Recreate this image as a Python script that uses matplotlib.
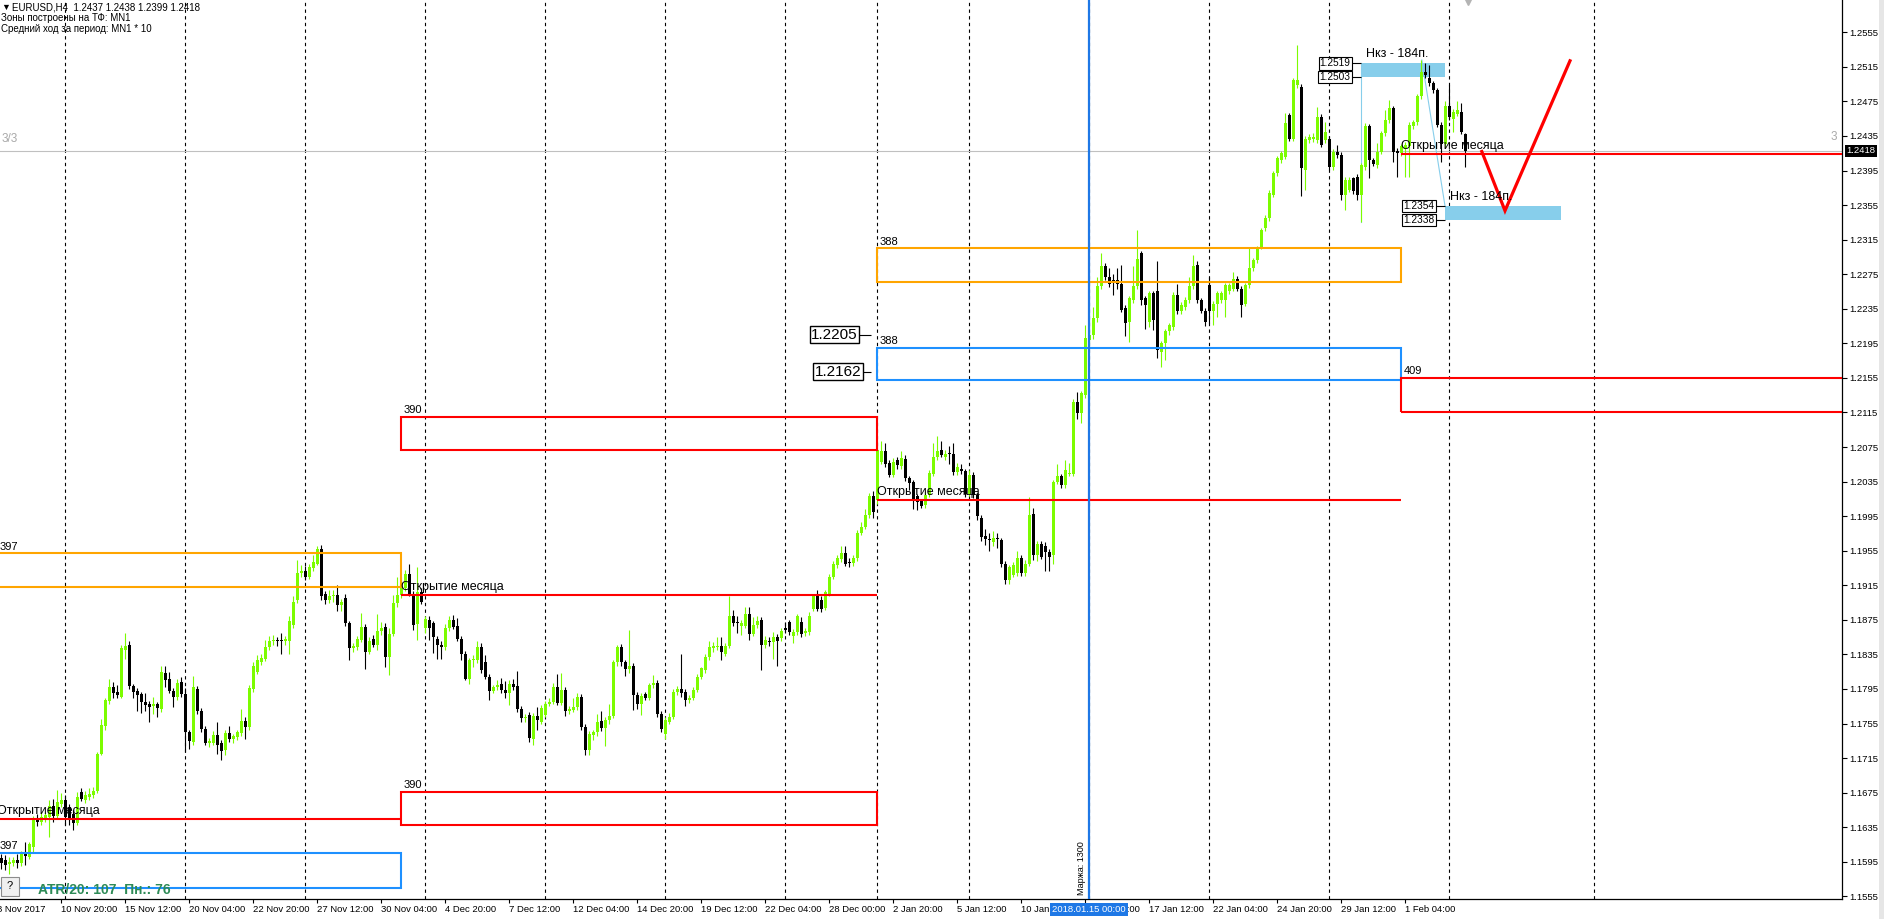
"""
EURUSD H4 chart with monthly zones (MT4 style)
"""

import numpy as np
import matplotlib
matplotlib.use('Agg')
import matplotlib.pyplot as plt
from matplotlib.patches import Rectangle

plt.rcParams['font.family'] = ['Liberation Sans', 'DejaVu Sans']

W, H = 1884, 919

# H4 candles, bar 0 = 8 Nov 2017 04:00
opens = [
    1.1602, 1.1599, 1.1597, 1.1592, 1.1594, 1.1597, 1.1593, 1.1605, 1.1601, 1.1612,
    1.1643, 1.1641, 1.1645, 1.1647, 1.1660, 1.1648, 1.1662, 1.1666, 1.1658, 1.1650,
    1.1640, 1.1676, 1.1667, 1.1670, 1.1672, 1.1677, 1.1720, 1.1752, 1.1781, 1.1797,
    1.1792, 1.1786, 1.1840, 1.1846, 1.1798, 1.1793, 1.1789, 1.1780, 1.1778, 1.1775,
    1.1777, 1.1772, 1.1813, 1.1806, 1.1793, 1.1786, 1.1803, 1.1789, 1.1745, 1.1734,
    1.1795, 1.1770, 1.1749, 1.1733, 1.1733, 1.1742, 1.1733, 1.1724, 1.1744, 1.1737,
    1.1739, 1.1744, 1.1758, 1.1751, 1.1795, 1.1815, 1.1826, 1.1830, 1.1843, 1.1850,
    1.1851, 1.1852, 1.1850, 1.1851, 1.1869, 1.1898, 1.1929, 1.1932, 1.1925, 1.1935,
    1.1940, 1.1957, 1.1905, 1.1898, 1.1902, 1.1904, 1.1892, 1.1900, 1.1871, 1.1842,
    1.1844, 1.1852, 1.1867, 1.1838, 1.1853, 1.1846, 1.1862, 1.1867, 1.1832, 1.1859,
    1.1894, 1.1904, 1.1912, 1.1928, 1.1905, 1.1870, 1.1907, 1.1865, 1.1875, 1.1871,
    1.1853, 1.1846, 1.1844, 1.1865, 1.1875, 1.1868, 1.1853, 1.1836, 1.1807, 1.1828,
    1.1828, 1.1844, 1.1826, 1.1809, 1.1793, 1.1797, 1.1801, 1.1794, 1.1790, 1.1801,
    1.1798, 1.1772, 1.1761, 1.1765, 1.1737, 1.1764, 1.1757, 1.1765, 1.1778, 1.1780,
    1.1797, 1.1779, 1.1794, 1.1770, 1.1771, 1.1774, 1.1786, 1.1751, 1.1724, 1.1742,
    1.1745, 1.1758, 1.1750, 1.1759, 1.1764, 1.1826, 1.1844, 1.1826, 1.1818, 1.1822,
    1.1788, 1.1778, 1.1789, 1.1785, 1.1799, 1.1802, 1.1766, 1.1743, 1.1757, 1.1763,
    1.1791, 1.1795, 1.1792, 1.1782, 1.1785, 1.1794, 1.1809, 1.1817, 1.1832, 1.1842,
    1.1844, 1.1845, 1.1836, 1.1845, 1.1880, 1.1872, 1.1868, 1.1868, 1.1882, 1.1859,
    1.1869, 1.1875, 1.1846, 1.1851, 1.1849, 1.1855, 1.1854, 1.1865, 1.1872, 1.1856,
    1.1861, 1.1872, 1.1860, 1.1861, 1.1888, 1.1902, 1.1898, 1.1889, 1.1905, 1.1925,
    1.1938, 1.1945, 1.1952, 1.1942, 1.1941, 1.1946, 1.1976, 1.1983, 1.1996, 1.2018,
    1.2014, 1.2058, 1.2070, 1.2056, 1.2043, 1.2060, 1.2053, 1.2061, 1.2039, 1.2034,
    1.2018, 1.2012, 1.2008, 1.2020, 1.2044, 1.2063, 1.2071, 1.2064, 1.2068, 1.2067,
    1.2046, 1.2050, 1.2047, 1.2021, 1.2043, 1.2019, 1.1993, 1.1972, 1.1968, 1.1965,
    1.1970, 1.1967, 1.1940, 1.1921, 1.1927, 1.1929, 1.1946, 1.1929, 1.1940, 1.1998,
    1.1950, 1.1963, 1.1961, 1.1954, 1.1950, 1.2035, 1.2041, 1.2031, 1.2044, 1.2044,
    1.2127, 1.2114, 1.2135, 1.2199, 1.2205, 1.2224, 1.2261, 1.2284, 1.2272, 1.2268,
    1.2268, 1.2264, 1.2236, 1.2220, 1.2245, 1.2261, 1.2299, 1.2247, 1.2220, 1.2253,
    1.2255, 1.2185, 1.2195, 1.2209, 1.2214, 1.2251, 1.2232, 1.2237, 1.2245, 1.2261,
    1.2286, 1.2245, 1.2233, 1.2262, 1.2232, 1.2241, 1.2245, 1.2245, 1.2255, 1.2258,
    1.2270, 1.2258, 1.2241, 1.2262, 1.2282, 1.2291, 1.2307, 1.2328, 1.2340, 1.2367,
    1.2392, 1.2407, 1.2411, 1.2459, 1.2432, 1.2494, 1.2492, 1.2396, 1.2430, 1.2432,
    1.2430, 1.2457, 1.2430, 1.2432, 1.2399, 1.2417, 1.2413, 1.2367, 1.2373, 1.2386,
    1.2388, 1.2367, 1.2399, 1.2446, 1.2407, 1.2401, 1.2417, 1.2438, 1.2453, 1.2467,
    1.2418, 1.2415, 1.2420, 1.2423, 1.2446, 1.2451, 1.2481, 1.2509, 1.2502, 1.2496,
    1.2488, 1.2448, 1.2426, 1.2470, 1.2455, 1.2461, 1.2463, 1.2437,
]
highs = [
    1.1606, 1.1604, 1.1603, 1.1601, 1.1600, 1.1604, 1.1608, 1.1618, 1.1618, 1.1648,
    1.1650, 1.1652, 1.1653, 1.1666, 1.1668, 1.1678, 1.1674, 1.1672, 1.1662, 1.1655,
    1.1676, 1.1680, 1.1677, 1.1680, 1.1681, 1.1722, 1.1760, 1.1785, 1.1806, 1.1803,
    1.1800, 1.1846, 1.1860, 1.1850, 1.1801, 1.1796, 1.1792, 1.1790, 1.1781, 1.1786,
    1.1780, 1.1822, 1.1821, 1.1815, 1.1796, 1.1806, 1.1809, 1.1796, 1.1748, 1.1810,
    1.1798, 1.1773, 1.1752, 1.1738, 1.1746, 1.1757, 1.1736, 1.1747, 1.1752, 1.1743,
    1.1748, 1.1772, 1.1762, 1.1799, 1.1826, 1.1834, 1.1836, 1.1852, 1.1856, 1.1858,
    1.1855, 1.1860, 1.1856, 1.1880, 1.1902, 1.1944, 1.1938, 1.1937, 1.1940, 1.1950,
    1.1961, 1.1962, 1.1908, 1.1910, 1.1910, 1.1915, 1.1899, 1.1905, 1.1874, 1.1848,
    1.1856, 1.1883, 1.1870, 1.1855, 1.1857, 1.1882, 1.1873, 1.1871, 1.1865, 1.1904,
    1.1925, 1.1925, 1.1933, 1.1940, 1.1908, 1.1936, 1.1912, 1.1880, 1.1879, 1.1874,
    1.1856, 1.1850, 1.1870, 1.1880, 1.1881, 1.1877, 1.1856, 1.1839, 1.1831, 1.1834,
    1.1851, 1.1848, 1.1834, 1.1812, 1.1800, 1.1805, 1.1808, 1.1804, 1.1805, 1.1806,
    1.1816, 1.1775, 1.1766, 1.1768, 1.1767, 1.1774, 1.1776, 1.1781, 1.1784, 1.1802,
    1.1812, 1.1813, 1.1797, 1.1775, 1.1784, 1.1790, 1.1789, 1.1754, 1.1746, 1.1748,
    1.1766, 1.1770, 1.1762, 1.1777, 1.1828, 1.1846, 1.1847, 1.1829, 1.1863, 1.1825,
    1.1791, 1.1790, 1.1792, 1.1802, 1.1811, 1.1805, 1.1769, 1.1762, 1.1767, 1.1795,
    1.1798, 1.1835, 1.1795, 1.1788, 1.1797, 1.1812, 1.1820, 1.1835, 1.1851, 1.1849,
    1.1855, 1.1855, 1.1848, 1.1902, 1.1886, 1.1880, 1.1875, 1.1890, 1.1890, 1.1878,
    1.1879, 1.1878, 1.1856, 1.1855, 1.1861, 1.1859, 1.1866, 1.1873, 1.1875, 1.1864,
    1.1882, 1.1878, 1.1866, 1.1884, 1.1905, 1.1910, 1.1902, 1.1910, 1.1928, 1.1943,
    1.1950, 1.1960, 1.1960, 1.1946, 1.1950, 1.1979, 1.1988, 1.2003, 1.2022, 1.2024,
    1.2082, 1.2082, 1.2080, 1.2060, 1.2062, 1.2064, 1.2070, 1.2066, 1.2042, 1.2037,
    1.2021, 1.2015, 1.2024, 1.2048, 1.2080, 1.2088, 1.2082, 1.2072, 1.2076, 1.2080,
    1.2056, 1.2055, 1.2050, 1.2048, 1.2046, 1.2022, 1.1996, 1.1980, 1.1975, 1.1978,
    1.1976, 1.1970, 1.1943, 1.1939, 1.1942, 1.1955, 1.1950, 1.1944, 1.2017, 1.2005,
    1.1966, 1.1966, 1.1965, 1.1957, 1.2037, 1.2055, 1.2044, 1.2060, 1.2056, 1.2130,
    1.2139, 1.2140, 1.2216, 1.2210, 1.2237, 1.2272, 1.2299, 1.2288, 1.2282, 1.2275,
    1.2282, 1.2286, 1.2239, 1.2250, 1.2284, 1.2326, 1.2302, 1.2250, 1.2256, 1.2256,
    1.2290, 1.2198, 1.2212, 1.2219, 1.2254, 1.2264, 1.2243, 1.2249, 1.2272, 1.2297,
    1.2290, 1.2248, 1.2236, 1.2272, 1.2244, 1.2256, 1.2256, 1.2265, 1.2265, 1.2278,
    1.2273, 1.2261, 1.2265, 1.2307, 1.2294, 1.2308, 1.2329, 1.2343, 1.2372, 1.2395,
    1.2412, 1.2418, 1.2462, 1.2462, 1.2502, 1.2540, 1.2495, 1.2435, 1.2437, 1.2438,
    1.2469, 1.2460, 1.2451, 1.2435, 1.2420, 1.2425, 1.2416, 1.2387, 1.2387, 1.2388,
    1.2391, 1.2404, 1.2450, 1.2449, 1.2410, 1.2427, 1.2441, 1.2465, 1.2477, 1.2470,
    1.2421, 1.2426, 1.2428, 1.2451, 1.2454, 1.2484, 1.2523, 1.2519, 1.2517, 1.2499,
    1.2491, 1.2451, 1.2475, 1.2494, 1.2466, 1.2475, 1.2473, 1.2438,
]
lows = [
    1.1592, 1.1587, 1.1585, 1.1581, 1.1590, 1.1588, 1.1590, 1.1591, 1.1598, 1.1606,
    1.1636, 1.1637, 1.1641, 1.1624, 1.1641, 1.1645, 1.1658, 1.1638, 1.1638, 1.1632,
    1.1638, 1.1665, 1.1663, 1.1667, 1.1669, 1.1674, 1.1718, 1.1748, 1.1778, 1.1785,
    1.1784, 1.1784, 1.1830, 1.1795, 1.1785, 1.1770, 1.1767, 1.1770, 1.1757, 1.1766,
    1.1762, 1.1768, 1.1797, 1.1790, 1.1774, 1.1782, 1.1786, 1.1722, 1.1725, 1.1730,
    1.1766, 1.1745, 1.1730, 1.1728, 1.1730, 1.1720, 1.1713, 1.1718, 1.1734, 1.1733,
    1.1736, 1.1741, 1.1737, 1.1748, 1.1792, 1.1812, 1.1823, 1.1827, 1.1840, 1.1846,
    1.1845, 1.1836, 1.1846, 1.1836, 1.1866, 1.1895, 1.1925, 1.1921, 1.1922, 1.1932,
    1.1938, 1.1898, 1.1893, 1.1895, 1.1896, 1.1885, 1.1885, 1.1868, 1.1828, 1.1838,
    1.1840, 1.1849, 1.1818, 1.1835, 1.1843, 1.1840, 1.1858, 1.1820, 1.1811, 1.1856,
    1.1890, 1.1900, 1.1908, 1.1902, 1.1863, 1.1852, 1.1893, 1.1860, 1.1852, 1.1837,
    1.1830, 1.1830, 1.1840, 1.1862, 1.1864, 1.1850, 1.1828, 1.1805, 1.1801, 1.1820,
    1.1825, 1.1814, 1.1806, 1.1782, 1.1790, 1.1794, 1.1790, 1.1785, 1.1776, 1.1794,
    1.1768, 1.1757, 1.1757, 1.1734, 1.1730, 1.1747, 1.1754, 1.1762, 1.1775, 1.1777,
    1.1776, 1.1776, 1.1764, 1.1766, 1.1768, 1.1771, 1.1748, 1.1719, 1.1718, 1.1736,
    1.1741, 1.1746, 1.1729, 1.1755, 1.1761, 1.1822, 1.1822, 1.1810, 1.1814, 1.1771,
    1.1772, 1.1765, 1.1782, 1.1782, 1.1796, 1.1763, 1.1745, 1.1737, 1.1754, 1.1760,
    1.1788, 1.1786, 1.1775, 1.1779, 1.1782, 1.1791, 1.1806, 1.1814, 1.1829, 1.1838,
    1.1840, 1.1829, 1.1833, 1.1842, 1.1868, 1.1860, 1.1858, 1.1865, 1.1852, 1.1856,
    1.1866, 1.1817, 1.1842, 1.1845, 1.1830, 1.1822, 1.1851, 1.1860, 1.1858, 1.1848,
    1.1858, 1.1855, 1.1856, 1.1858, 1.1885, 1.1885, 1.1884, 1.1886, 1.1902, 1.1922,
    1.1935, 1.1942, 1.1937, 1.1936, 1.1937, 1.1943, 1.1973, 1.1980, 1.1993, 1.1993,
    1.2009, 1.2055, 1.2052, 1.2040, 1.2040, 1.2050, 1.2050, 1.2036, 1.2025, 1.2003,
    1.2002, 1.2004, 1.2005, 1.2017, 1.2041, 1.2060, 1.2063, 1.2060, 1.2055, 1.2043,
    1.2043, 1.2044, 1.2017, 1.2018, 1.2016, 1.1990, 1.1966, 1.1962, 1.1955, 1.1960,
    1.1958, 1.1936, 1.1916, 1.1917, 1.1924, 1.1926, 1.1926, 1.1926, 1.1937, 1.1944,
    1.1943, 1.1945, 1.1931, 1.1931, 1.1940, 1.2032, 1.2028, 1.2028, 1.2041, 1.2041,
    1.2108, 1.2103, 1.2132, 1.2195, 1.2200, 1.2220, 1.2258, 1.2268, 1.2260, 1.2251,
    1.2258, 1.2231, 1.2203, 1.2197, 1.2242, 1.2258, 1.2239, 1.2212, 1.2214, 1.2210,
    1.2178, 1.2168, 1.2176, 1.2205, 1.2211, 1.2229, 1.2229, 1.2234, 1.2242, 1.2258,
    1.2242, 1.2230, 1.2215, 1.2218, 1.2216, 1.2226, 1.2242, 1.2226, 1.2252, 1.2255,
    1.2255, 1.2226, 1.2238, 1.2259, 1.2279, 1.2288, 1.2304, 1.2325, 1.2337, 1.2364,
    1.2389, 1.2404, 1.2408, 1.2429, 1.2429, 1.2491, 1.2365, 1.2373, 1.2427, 1.2428,
    1.2427, 1.2422, 1.2427, 1.2396, 1.2396, 1.2410, 1.2361, 1.2349, 1.2370, 1.2368,
    1.2361, 1.2336, 1.2396, 1.2386, 1.2400, 1.2398, 1.2414, 1.2435, 1.2450, 1.2405,
    1.2388, 1.2412, 1.2388, 1.2388, 1.2443, 1.2448, 1.2478, 1.2502, 1.2493, 1.2485,
    1.2445, 1.2405, 1.2422, 1.2454, 1.2440, 1.2458, 1.2437, 1.2399,
]
closes = [
    1.1597, 1.1593, 1.1591, 1.1595, 1.1597, 1.1594, 1.1605, 1.1602, 1.1615, 1.1643,
    1.1641, 1.1647, 1.1649, 1.1660, 1.1648, 1.1664, 1.1666, 1.1647, 1.1643, 1.1640,
    1.1670, 1.1668, 1.1672, 1.1673, 1.1677, 1.1720, 1.1753, 1.1782, 1.1797, 1.1790,
    1.1788, 1.1842, 1.1845, 1.1798, 1.1791, 1.1788, 1.1780, 1.1776, 1.1774, 1.1778,
    1.1773, 1.1815, 1.1805, 1.1793, 1.1786, 1.1802, 1.1789, 1.1745, 1.1735, 1.1797,
    1.1770, 1.1749, 1.1733, 1.1735, 1.1742, 1.1730, 1.1723, 1.1744, 1.1737, 1.1740,
    1.1745, 1.1758, 1.1751, 1.1796, 1.1822, 1.1828, 1.1831, 1.1844, 1.1851, 1.1852,
    1.1850, 1.1851, 1.1853, 1.1874, 1.1896, 1.1929, 1.1932, 1.1925, 1.1936, 1.1942,
    1.1957, 1.1903, 1.1898, 1.1902, 1.1904, 1.1892, 1.1896, 1.1871, 1.1842, 1.1845,
    1.1853, 1.1867, 1.1838, 1.1851, 1.1846, 1.1862, 1.1866, 1.1832, 1.1859, 1.1894,
    1.1904, 1.1912, 1.1928, 1.1905, 1.1869, 1.1907, 1.1896, 1.1876, 1.1865, 1.1855,
    1.1846, 1.1844, 1.1865, 1.1875, 1.1867, 1.1853, 1.1836, 1.1807, 1.1828, 1.1830,
    1.1844, 1.1817, 1.1809, 1.1793, 1.1797, 1.1800, 1.1794, 1.1790, 1.1801, 1.1797,
    1.1772, 1.1761, 1.1763, 1.1738, 1.1764, 1.1759, 1.1773, 1.1778, 1.1780, 1.1797,
    1.1779, 1.1794, 1.1769, 1.1772, 1.1774, 1.1786, 1.1751, 1.1724, 1.1743, 1.1745,
    1.1757, 1.1750, 1.1759, 1.1764, 1.1826, 1.1844, 1.1826, 1.1818, 1.1822, 1.1788,
    1.1778, 1.1787, 1.1785, 1.1799, 1.1802, 1.1766, 1.1749, 1.1759, 1.1763, 1.1792,
    1.1795, 1.1790, 1.1782, 1.1785, 1.1794, 1.1809, 1.1819, 1.1832, 1.1844, 1.1845,
    1.1845, 1.1838, 1.1845, 1.1879, 1.1871, 1.1871, 1.1871, 1.1882, 1.1859, 1.1869,
    1.1874, 1.1846, 1.1852, 1.1849, 1.1855, 1.1850, 1.1862, 1.1863, 1.1861, 1.1861,
    1.1879, 1.1859, 1.1862, 1.1880, 1.1902, 1.1888, 1.1888, 1.1907, 1.1925, 1.1940,
    1.1946, 1.1952, 1.1940, 1.1941, 1.1947, 1.1976, 1.1983, 1.1996, 1.2018, 1.2000,
    1.2071, 1.2070, 1.2055, 1.2043, 1.2058, 1.2054, 1.2062, 1.2039, 1.2033, 1.2015,
    1.2011, 1.2007, 1.2020, 1.2045, 1.2063, 1.2070, 1.2066, 1.2067, 1.2067, 1.2046,
    1.2052, 1.2047, 1.2021, 1.2043, 1.2019, 1.1995, 1.1971, 1.1968, 1.1967, 1.1970,
    1.1969, 1.1940, 1.1921, 1.1936, 1.1938, 1.1946, 1.1929, 1.1940, 1.1996, 1.1950,
    1.1963, 1.1948, 1.1954, 1.1948, 1.2035, 1.2041, 1.2031, 1.2048, 1.2045, 1.2127,
    1.2114, 1.2137, 1.2201, 1.2205, 1.2224, 1.2261, 1.2284, 1.2272, 1.2264, 1.2267,
    1.2264, 1.2234, 1.2218, 1.2247, 1.2261, 1.2293, 1.2245, 1.2239, 1.2253, 1.2222,
    1.2187, 1.2195, 1.2209, 1.2216, 1.2251, 1.2232, 1.2239, 1.2245, 1.2261, 1.2284,
    1.2245, 1.2233, 1.2220, 1.2232, 1.2241, 1.2253, 1.2253, 1.2262, 1.2262, 1.2270,
    1.2258, 1.2239, 1.2262, 1.2282, 1.2291, 1.2305, 1.2326, 1.2340, 1.2369, 1.2392,
    1.2409, 1.2415, 1.2450, 1.2432, 1.2500, 1.2500, 1.2398, 1.2432, 1.2434, 1.2434,
    1.2457, 1.2425, 1.2440, 1.2399, 1.2417, 1.2413, 1.2367, 1.2384, 1.2384, 1.2371,
    1.2367, 1.2401, 1.2446, 1.2407, 1.2403, 1.2417, 1.2438, 1.2453, 1.2467, 1.2417,
    1.2415, 1.2423, 1.2425, 1.2448, 1.2451, 1.2481, 1.2509, 1.2506, 1.2496, 1.2488,
    1.2448, 1.2426, 1.2470, 1.2457, 1.2463, 1.2465, 1.2440, 1.2418,
]

# time axis labels, one every 16 bars
time_labels = ["8 Nov 2017", "10 Nov 20:00", "15 Nov 12:00", "20 Nov 04:00",
               "22 Nov 20:00", "27 Nov 12:00", "30 Nov 04:00", "4 Dec 20:00",
               "7 Dec 12:00", "12 Dec 04:00", "14 Dec 20:00", "19 Dec 12:00",
               "22 Dec 04:00", "28 Dec 00:00", "2 Jan 20:00", "5 Jan 12:00",
               "10 Jan", "12 Jan 20:00", "17 Jan 12:00", "22 Jan 04:00",
               "24 Jan 20:00", "29 Jan 12:00", "1 Feb 04:00"]
week_starts = [17, 47, 77, 107, 137, 167, 197, 220, 243, 273, 303, 333, 363, 399.25]
price_levels = [round(1.1555 + 0.004 * k, 4) for k in range(26)]

# monthly open lines
month_start = [-5, 101, 220, 351]
month_end = [101, 220, 351, 600]
month_open = [1.1644, 1.1904, 1.2014, 1.2414]

# monthly zones
zone_start = [-5, -5, 101, 101, 220, 220, 351]
zone_end = [101, 101, 220, 220, 351, 351, 600]
zone_low = [1.1913, 1.1565, 1.2071, 1.1637, 1.2266, 1.2152, 1.2115]
zone_high = [1.1952, 1.1605, 1.2110, 1.1676, 1.2305, 1.2190, 1.2155]
zone_size = ['397', '397', '390', '390', '388', '388', '409']
zone_color = ['#ffa500', '#1e90ff', '#ff0000', '#ff0000', '#ffa500', '#1e90ff', '#ff0000']

# target boxes (Нкз)
target_start = [341, 362]
target_end = [362, 391]
target_low = [1.2503, 1.2338]
target_high = [1.2519, 1.2354]

# left price tags near January blue zone
tag_prices = [1.2205, 1.2162]

# forecast path
path_bars = [371.2, 377, 393.25]
path_prices = [1.2417, 1.23485, 1.2522]

margin_bar = 273
shift_bar = 367.75
cur_price = closes[-1]

GREEN = '#7cfc00'


def px(x, y):
    return x / W, 1 - y / H


fig = plt.figure(figsize=(W / 100, H / 100), dpi=100, facecolor='white')
ax = fig.add_axes([0, 20 / H, 1842 / W, 899 / H])
ax.set_xlim(0.75, 461.25)
ax.set_ylim(1.155188, 1.259238)

o = np.array(opens)
h = np.array(highs)
lo = np.array(lows)
c = np.array(closes)
x = np.arange(len(c))
cols = np.where(c >= o, GREEN, 'black')

# week separators
for wb in week_starts:
    ax.axvline(wb, color='black', lw=0.8, ls=(0, (3, 3)), zorder=1)

# current price line
ax.axhline(cur_price, color='#c0c0c0', lw=0.8, zorder=1)

# target boxes behind candles
for s, e, l_, hh in zip(target_start, target_end, target_low, target_high):
    ax.add_patch(Rectangle((s, l_), e - s, hh - l_, fc='#87ceeb', ec='none', zorder=1.5))
ax.plot([target_start[0], target_start[0]], [target_high[0], 1.2335], color='#87ceeb', lw=0.8, zorder=1.5)
ax.plot([356.2, target_end[0]], [1.2523, target_high[1]], color='#87ceeb', lw=0.8, zorder=1.5)

# candles
ax.vlines(x, lo, h, colors=cols, lw=0.8, zorder=2)
ax.bar(x, np.maximum(np.abs(c - o), 0.00012), bottom=np.minimum(o, c), width=0.75,
       color=cols, lw=0, zorder=2.1)

# zones
for s, e, l_, hh, lab, col in zip(zone_start, zone_end, zone_low, zone_high, zone_size, zone_color):
    ax.add_patch(Rectangle((s, l_), e - s, hh - l_, fill=False, ec=col, lw=1.5, zorder=3))
    ax.text(max(s, 0) + 0.6, hh + 0.0002, lab, fontsize=8, ha='left', va='bottom', zorder=4)

# month open lines
for s, e, mo in zip(month_start, month_end, month_open):
    ax.hlines(mo, s, e, color='#ff0000', lw=1.5, zorder=3)
    ax.text(max(s, 0), mo + 0.00025, 'Открытие месяца', fontsize=9, ha='left',
            va='bottom', zorder=4)

# margin vertical line
ax.axvline(margin_bar, color='#1e78e6', lw=1.6, zorder=3)
ax.text(margin_bar - 1.8, 1.1557, 'Маржа: 1300', rotation=90, fontsize=6.5,
        ha='center', va='bottom', zorder=4)

# forecast path
ax.plot(path_bars, path_prices, color='#ff0000', lw=2.3, zorder=4, solid_joinstyle='miter')

# chart shift marker
ax.plot([shift_bar], [1.2592], marker='v', ms=7, color='#b4b4b4', clip_on=False, zorder=5)

# target labels
ax.text(target_start[0] + 1.3, target_high[0] + 0.0004, 'Нкз - 184п.', fontsize=9,
        ha='left', va='bottom', zorder=4)
ax.text(target_start[1] + 1.3, target_high[1] + 0.0004, 'Нкз - 184п.', fontsize=9,
        ha='left', va='bottom', zorder=4)

tag_box = dict(boxstyle='square,pad=0.12', fc='white', ec='black', lw=0.8)
for val, anchor in [(target_high[0], target_start[0]), (target_low[0], target_start[0]),
                    (target_high[1], target_end[0]), (target_low[1], target_end[0])]:
    ax.hlines(val, anchor - 2.4, anchor, color='black', lw=0.8, zorder=4)
    ax.text(anchor - 2.6, val, f'{val:.4f}', fontsize=7.3, ha='right', va='center',
            bbox=tag_box, zorder=5)
big_box = dict(boxstyle='square,pad=0.1', fc='white', ec='black', lw=1)
for val, tx in zip(tag_prices, [215.6, 216.4]):
    ax.hlines(val, tx, 218.6, color='black', lw=0.8, zorder=4)
    ax.text(tx - 0.4, val, f'{val:.4f}', fontsize=11, ha='right', va='center',
            bbox=big_box, zorder=5)

# axes styling
for side in ['top', 'left']:
    ax.spines[side].set_visible(False)
for side in ['right', 'bottom']:
    ax.spines[side].set_color('black')
    ax.spines[side].set_linewidth(0.9)
ax.yaxis.tick_right()
ax.set_yticks(price_levels, [f'{v:.4f}' for v in price_levels])
ax.tick_params(axis='y', direction='out', length=3.5, width=0.8, pad=2, labelsize=6.8)
tick_pos = [16 * k for k in range(len(time_labels))]
ax.set_xticks(tick_pos[1:], time_labels[1:])
ax.tick_params(axis='x', direction='out', length=3, width=0.8, pad=1.5, labelsize=6.8)
for t in ax.get_xticklabels():
    t.set_ha('left')
ax.annotate(time_labels[0], xy=(tick_pos[0], 0), xycoords=('data', 'axes fraction'),
            xytext=(0, -4.5), textcoords='offset points', ha='left', va='top',
            fontsize=6.8, annotation_clip=False)
ax.annotate('2018.01.15 00:00', xy=(margin_bar, 0), xycoords=('data', 'axes fraction'),
            xytext=(0, -4.2), textcoords='offset points', ha='center', va='top',
            fontsize=6.8, color='white', annotation_clip=False, zorder=6,
            bbox=dict(boxstyle='square,pad=0.2', fc='#1e78e6', ec='none'))
ax.annotate(f'{cur_price:.4f}', xy=(1, cur_price), xycoords=('axes fraction', 'data'),
            xytext=(3, 0), textcoords='offset points', ha='left', va='center',
            fontsize=6.8, color='white', annotation_clip=False,
            bbox=dict(boxstyle='square,pad=0.15', fc='black', ec='none'))

# header texts
fig.text(*px(1, 7), '▼', fontsize=6.5, va='center', ha='left')
fig.text(*px(12, 7), f'EURUSD,H4  {opens[-1]:.4f} {highs[-1]:.4f} {lows[-1]:.4f} {closes[-1]:.4f}',
         fontsize=7, va='center', ha='left')
fig.text(*px(1, 18), 'Зоны построены на ТФ: MN1', fontsize=7, va='center', ha='left')
fig.text(*px(1, 29), 'Средний ход за период: MN1 * 10', fontsize=7, va='center', ha='left')
fig.text(*px(2, 139), '3/3', fontsize=8.5, color='#a9a9a9', va='center', ha='left')
fig.text(*px(1831, 137), '3', fontsize=8.5, color='#a9a9a9', va='center', ha='left')

# bottom-left info
fig.patches.append(Rectangle(px(1, 896), 18 / W, 19 / H, transform=fig.transFigure,
                             fc='#f0f0f0', ec='#8c8c8c', lw=0.8, zorder=5))
fig.text(*px(10, 886), '?', fontsize=8, va='center', ha='center', zorder=6)
fig.text(*px(38, 890), 'ATR/20: 107  Пн.: 76', fontsize=10, fontweight='bold',
         color='#2e8b57', va='center', ha='left', zorder=6)

# right edge strip
fig.patches.append(Rectangle((1879 / W, 0), 5 / W, 1, transform=fig.transFigure,
                             fc='#e6e6e6', ec='none', zorder=0))

fig.savefig('out.png', dpi=100, facecolor='white')
